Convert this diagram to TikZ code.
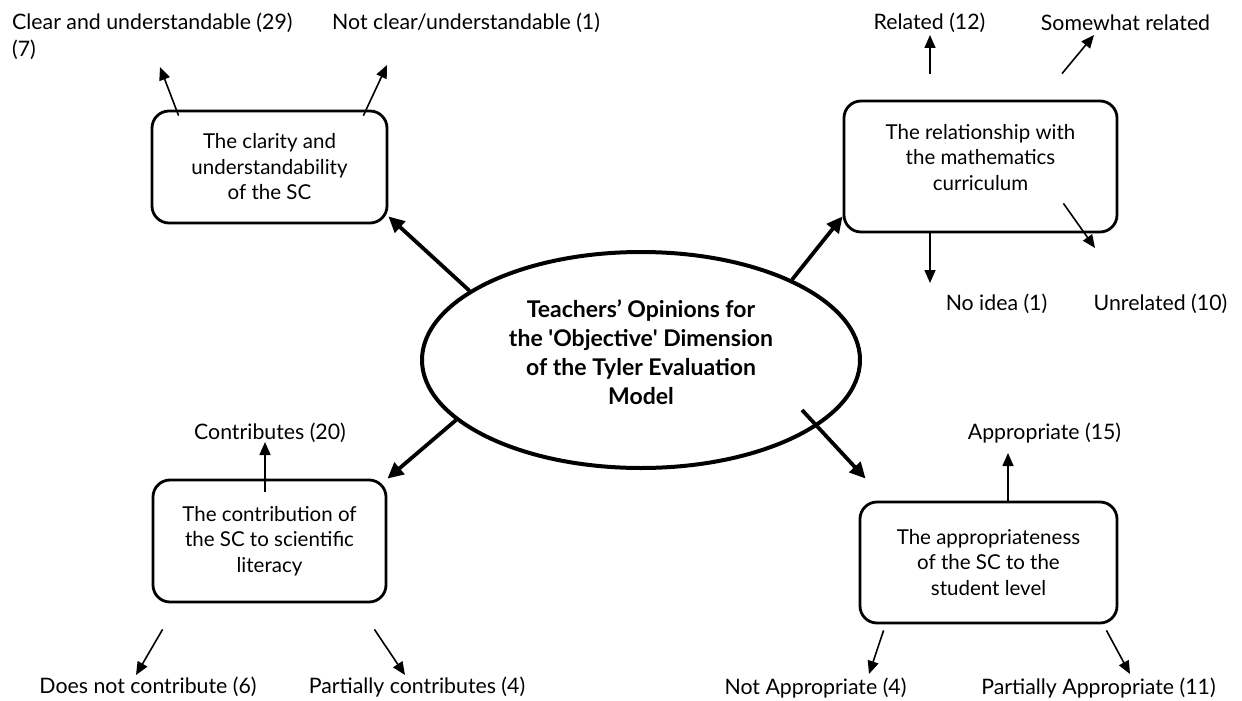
\documentclass[tikz,border=0pt]{standalone}
\usepackage{fontspec}
\setmainfont{Lato}
\usepackage{tikz}
\usetikzlibrary{arrows.meta, shapes.geometric}
\tikzset{OpinionMap/.style = {% styles of the opinion map
       core/.style = {ellipse, draw, line width=4pt,
                      minimum width=438pt, minimum height=216pt, inner sep=0pt,
                      align=center, font=\fontsize{23}{29}\selectfont\bfseries},
     aspect/.style = {rectangle, draw, rounded corners=17pt, line width=2.8pt,
                      inner sep=0pt, align=center,
                      font=\fontsize{20.5}{25.5}\selectfont},
     answer/.style = {inner sep=0pt, font=\fontsize{21.3}{27}\selectfont},
      arrow/.style = {line width=3.8pt, -{Triangle[length=16pt,width=15pt]}},
 thin arrow/.style = {line width=1.6pt, -{Triangle[length=13pt,width=11pt]}}}
        }

\begin{document}
\begin{tikzpicture}[OpinionMap, x=1pt, y=-1pt]
\useasboundingbox (0,0) rectangle (1242,701);

% nodes
\node (core)     [core, text depth=15pt] at (641,360) {Teachers’ Opinions for\\ the \textquotesingle Objective\textquotesingle{} Dimension\\ of the Tyler Evaluation\\ Model};
\node (clarity)  [aspect, minimum width=235pt, minimum height=112pt] at (269.5,167) {The clarity and\\ understandability\\ of the SC};
\node (relation) [aspect, minimum width=273pt, minimum height=131pt, text depth=19pt] at (980.5,166.5) {The relationship with\\ the mathematics\\ curriculum};
\node (contrib)  [aspect, minimum width=233pt, minimum height=122pt] at (269.5,541) {The contribution of\\ the SC to scientific\\ literacy};
\node (approp)   [aspect, minimum width=257pt, minimum height=121pt] at (988.5,562.5) {The appropriateness\\ of the SC to the\\ student level};

% answers
\node (clear)       [answer, anchor=west] at (12,23)  {Clear and understandable (29)};
\node (seven)       [answer, anchor=west] at (12,50)  {(7)};
\node (notclear)    [answer, anchor=west] at (332,23) {Not clear/understandable (1)};
\node (related)     [answer] at (929.5,23)  {Related (12)};
\node (somewhat)    [answer] at (1125.5,23) {Somewhat related};
\node (noidea)      [answer] at (996.5,304) {No idea (1)};
\node (unrelated)   [answer] at (1160.5,304) {Unrelated (10)};
\node (contributes) [answer] at (270,433)   {Contributes (20)};
\node (notcontrib)  [answer] at (148,687)   {Does not contribute (6)};
\node (partcontrib) [answer] at (417,687)   {Partially contributes (4)};
\node (appropriate) [answer] at (1044.5,433) {Appropriate (15)};
\node (notappr)     [answer] at (815.5,688) {Not Appropriate (4)};
\node (partappr)    [answer] at (1098.5,688) {Partially Appropriate (11)};

% arrow tips
\coordinate (clear-tip)       at (160,67);
\coordinate (notclear-tip)    at (387,65);
\coordinate (related-tip)     at (930,35);
\coordinate (somewhat-tip)    at (1094,35);
\coordinate (unrelated-tip)   at (1095,248);
\coordinate (noidea-tip)      at (930,283);
\coordinate (contributes-tip) at (265,442);
\coordinate (notcontrib-tip)  at (136,675);
\coordinate (partcontrib-tip) at (405,675);
\coordinate (appropriate-tip) at (1008,453);
\coordinate (notappr-tip)     at (869,674);
\coordinate (partappr-tip)    at (1130,674);

% main paths
\draw [arrow] (core.158) -- ([yshift=8pt]clarity.south east);
\draw [arrow] (core.28)  -- ([yshift=17pt]relation.south west);
\draw [arrow] (core.198) -- (contrib.north east);
\draw [arrow] ([xshift=161pt,yshift=-50pt]core.center) -- ([xshift=7pt,yshift=22pt]approp.north west);

% answer paths
\draw [thin arrow] ([xshift=28pt,yshift=-6pt]clarity.north west)  -- (clear-tip);
\draw [thin arrow] ([xshift=-25pt,yshift=-6pt]clarity.north east) -- (notclear-tip);
\draw [thin arrow] ([xshift=-50.5pt,yshift=26pt]relation.north)   -- (related-tip);
\draw [thin arrow] ([xshift=81.5pt,yshift=26pt]relation.north)    -- (somewhat-tip);
\draw [thin arrow] ([xshift=-55pt,yshift=30pt]relation.south east) -- (unrelated-tip);
\draw [thin arrow] ([xshift=-50.5pt]relation.south)               -- (noidea-tip);
\draw [thin arrow] ([xshift=-4.5pt,yshift=-13pt]contrib.north)    -- (contributes-tip);
\draw [thin arrow] ([xshift=11pt,yshift=-26pt]contrib.south west) -- (notcontrib-tip);
\draw [thin arrow] ([xshift=-13pt,yshift=-26pt]contrib.south east) -- (partcontrib-tip);
\draw [thin arrow] ([xshift=19.5pt]approp.north)                  -- (appropriate-tip);
\draw [thin arrow] ([xshift=25pt,yshift=-6pt]approp.south west)   -- (notappr-tip);
\draw [thin arrow] ([xshift=-12pt,yshift=-6pt]approp.south east)  -- (partappr-tip);

\end{tikzpicture}
\end{document}
